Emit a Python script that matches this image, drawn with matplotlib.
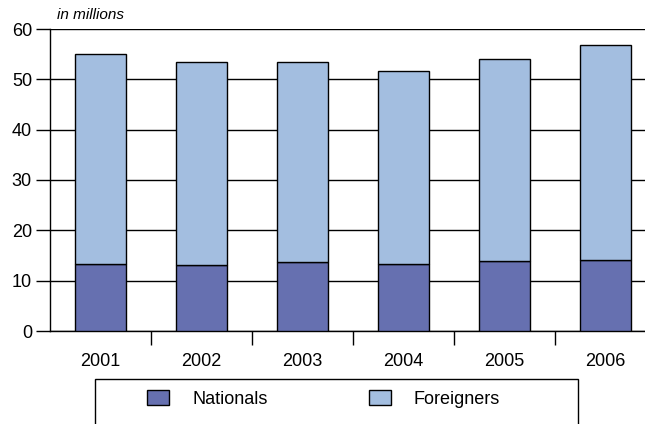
import numpy as np
import matplotlib.pyplot as plt
from matplotlib.patches import Rectangle, Patch

plt.rcParams['font.family'] = ['Liberation Sans', 'DejaVu Sans']

years = ['2001', '2002', '2003', '2004', '2005', '2006']
nationals = [13.3, 13.1, 13.7, 13.3, 13.9, 14.2]
foreigners = [41.8, 40.4, 39.8, 38.4, 40.2, 42.7]

c_nat = '#6670b0'
c_for = '#a3bee0'

W, H = 645, 424
fig = plt.figure(figsize=(W / 100, H / 100), dpi=100)
# axes spans x 50..656 px, y 29..331 px (right side clipped by figure)
ax = fig.add_axes([50 / W, (H - 331) / H, 606 / W, 302 / H])

x = np.arange(len(years))
ax.bar(x, nationals, width=0.505, color=c_nat, edgecolor='black', linewidth=1.0, zorder=3)
ax.bar(x, foreigners, bottom=nationals, width=0.505, color=c_for, edgecolor='black',
       linewidth=1.0, zorder=3)

ax.set_ylim(0, 60)
ax.set_xlim(-0.5, 5.5)
ax.set_yticks(range(0, 61, 10))
ax.yaxis.grid(True, color='black', linewidth=1.0, zorder=0)
ax.set_axisbelow(True)

# year labels at centres, ticks between categories
ax.set_xticks(x)
ax.set_xticklabels(years)
ax.tick_params(axis='x', which='major', length=0, pad=16, labelsize=13)
ax.set_xticks(np.arange(0.5, 5.5, 1.0), minor=True)
ax.tick_params(axis='x', which='minor', length=10, width=1.0, color='black', direction='out')
ax.tick_params(axis='y', length=10, width=1.0, labelsize=13, pad=3)

for s in ['top', 'right']:
    ax.spines[s].set_visible(False)
ax.spines['left'].set_linewidth(1.0)
ax.spines['bottom'].set_linewidth(1.0)

fig.text(57 / W, (H - 15) / H, 'in millions', fontsize=11, style='italic', va='center', ha='left')

# legend box
fig.patches.append(Rectangle((95 / W, -0.05), 483 / W, (H - 379) / H + 0.05,
                             transform=fig.transFigure, fill=False, edgecolor='black',
                             linewidth=1.0))
handles = [Patch(facecolor=c_nat, edgecolor='black', label='Nationals'),
           Patch(facecolor=c_for, edgecolor='black', label='Foreigners')]
fig.legend(handles=handles, ncol=2, frameon=False, fontsize=13,
           loc='center left', bbox_to_anchor=(131 / W, (H - 399) / H),
           handlelength=1.22, handleheight=0.85, handletextpad=1.27, columnspacing=5.6)

fig.savefig('out.png', dpi=100)
